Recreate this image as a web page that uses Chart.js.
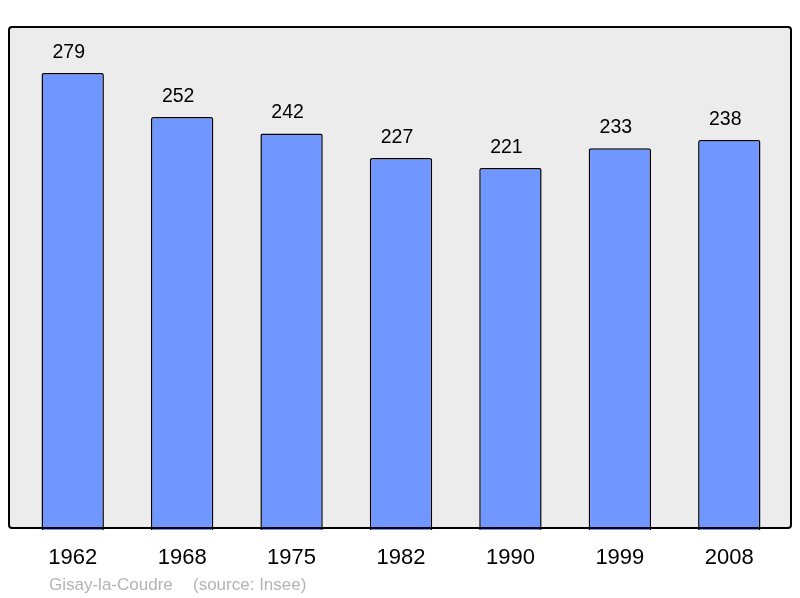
<!DOCTYPE html>
<html>
<head>
<meta charset="utf-8">
<script src="https://cdn.jsdelivr.net/npm/chart.js@4/dist/chart.umd.min.js"></script>
<style>
  html, body { margin: 0; padding: 0; background: #fff; }
</style>
</head>
<body>
<canvas id="pop" width="800" height="598"></canvas>
<script>
let years = ["1962", "1968", "1975", "1982", "1990", "1999", "2008"]; // census years
let population = [279, 252, 242, 227, 221, 233, 238]; // inhabitants
let place = "Gisay-la-Coudre";
let source = "(source: Insee)";

// grey box with black border behind the bars
const frame = {
     id: "frame",
     beforeDatasetsDraw(chart) {
          const ctx = chart.ctx;
          ctx.save();
          ctx.fillStyle = "#ececec";
          ctx.beginPath();
          ctx.roundRect(9, 27, 782, 501, 3);
          ctx.fill();
          ctx.restore();
     },
     afterDatasetsDraw(chart) {
          const ctx = chart.ctx;
          ctx.save();
          ctx.strokeStyle = "#000";
          ctx.lineWidth = 2;
          ctx.beginPath();
          ctx.roundRect(9, 27, 782, 501, 3);
          ctx.stroke();
          // values above bars
          ctx.fillStyle = "#000";
          ctx.font = "19.5px 'Liberation Sans', Arial, sans-serif";
          ctx.textAlign = "center";
          ctx.textBaseline = "alphabetic";
          chart.getDatasetMeta(0).data.forEach((bar, i) => {
               ctx.fillText(population[i], bar.x - 4, bar.y - 15);
          });
          // footer
          ctx.fillStyle = "#b3b3b3";
          ctx.font = "17px 'Liberation Sans', Arial, sans-serif";
          ctx.textAlign = "left";
          ctx.fillText(place, 49, 590);
          ctx.fillText(source, 193, 590);
          ctx.restore();
     },
};

new Chart("pop", {
     type: "bar",
     data: {
          labels: years,
          datasets: [
               {
                    data: population,
                    backgroundColor: "#7096ff",
                    borderColor: "#000",
                    borderWidth: 1.5,
                    borderRadius: 2,
                    borderSkipped: "bottom",
                    categoryPercentage: 1,
                    barPercentage: 0.57,
               },
          ],
     },
     options: {
          responsive: false,
          animation: false,
          layout: { padding: { left: 18, right: 16, top: 27, bottom: 0 } },
          plugins: { legend: { display: false }, tooltip: { enabled: false } },
          scales: {
               y: { display: false, min: 0, max: 307 },
               x: {
                    grid: { display: false },
                    border: { display: false },
                    ticks: {
                         color: "#000",
                         padding: 7,
                         font: { size: 22, family: "'Liberation Sans', Arial, sans-serif" },
                    },
                    afterFit(scale) {
                         scale.height = 68;
                    },
               },
          },
     },
     plugins: [frame],
});
</script>
</body>
</html>
